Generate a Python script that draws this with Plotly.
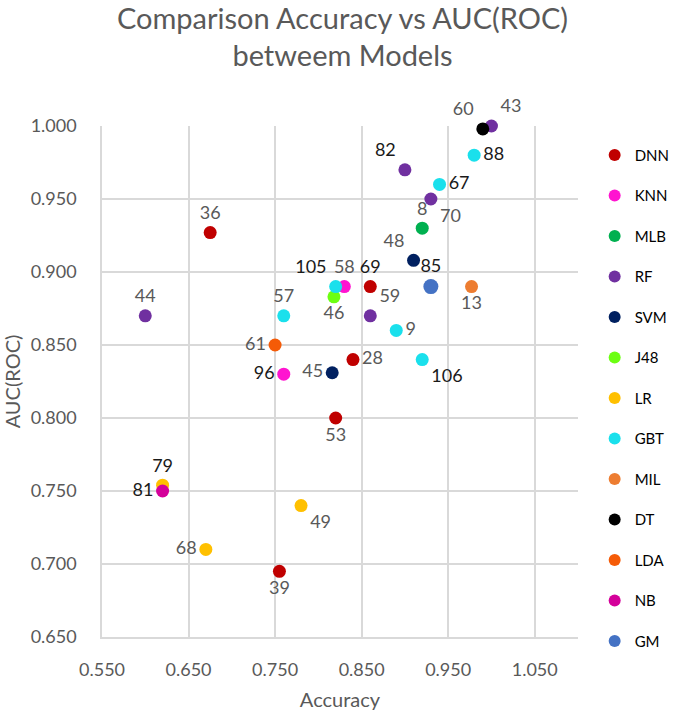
import plotly.graph_objects as go

# models in legend order
models = ["DNN", "KNN", "MLB", "RF", "SVM", "J48", "LR", "GBT", "MIL", "DT", "LDA", "NB", "GM"]
colors = ["#C00000", "#FF14D0", "#00B050", "#7030A0", "#002060", "#6CFF12", "#FFC000",
          "#1AE0EC", "#ED7D31", "#000000", "#F55B07", "#D4009A", "#4472C4"]

# one entry per study (point)
study_id = [36, 69, 28, 53, 39,
            58, 96,
            8,
            44, 43, 82, 70, 59,
            48, 45,
            46,
            79, 68, 49,
            57, 88, 67, 105, 9, 106,
            13,
            60,
            61,
            81,
            85]
study_model = ["DNN"] * 5 + ["KNN"] * 2 + ["MLB"] + ["RF"] * 5 + ["SVM"] * 2 + ["J48"] + \
              ["LR"] * 3 + ["GBT"] * 6 + ["MIL", "DT", "LDA", "NB", "GM"]
accuracy = [0.675, 0.860, 0.840, 0.820, 0.755,
            0.830, 0.760,
            0.920,
            0.600, 1.000, 0.900, 0.930, 0.860,
            0.910, 0.816,
            0.818,
            0.620, 0.670, 0.780,
            0.760, 0.980, 0.940, 0.820, 0.890, 0.920,
            0.977,
            0.990,
            0.750,
            0.620,
            0.930]
auc = [0.927, 0.890, 0.840, 0.800, 0.695,
       0.890, 0.830,
       0.930,
       0.870, 1.000, 0.970, 0.950, 0.870,
       0.908, 0.831,
       0.883,
       0.754, 0.710, 0.740,
       0.870, 0.980, 0.960, 0.890, 0.860, 0.840,
       0.890,
       0.998,
       0.850,
       0.750,
       0.890]

# where each label sits around its dot
label_pos = {36: "top center", 69: "top center", 28: "middle right", 53: "bottom center",
             39: "bottom center", 58: "top center", 96: "middle left", 8: "top center",
             44: "top center", 43: "top right", 82: "top left", 70: "bottom right",
             59: "top right", 48: "top left", 45: "middle left", 46: "bottom center",
             79: "top center", 68: "middle left", 49: "bottom right", 57: "top center",
             88: "middle right", 67: "middle right", 105: "top left", 9: "middle right",
             106: "bottom right", 13: "bottom center", 60: "top left", 61: "middle left",
             81: "middle left", 85: "top center"}
dark_labels = {82, 88, 67, 85, 69, 105, 96, 79, 81, 106}

fig = go.Figure()
for m, c in zip(models, colors):
    idx = [i for i, s in enumerate(study_model) if s == m]
    ids = [study_id[i] for i in idx]
    fig.add_trace(go.Scatter(
        x=[accuracy[i] for i in idx],
        y=[auc[i] for i in idx],
        mode="markers+text",
        name=m,
        legendgroup=m,
        text=[str(s) for s in ids],
        textposition=[label_pos[s] for s in ids],
        textfont=dict(size=18, color=["#1a1a1a" if s in dark_labels else "#595959" for s in ids]),
        marker=dict(color=c, size=15 if m == "GM" else 13),
        cliponaxis=False,
    ))

grey = "#595959"
fig.update_layout(
    width=685, height=714,
    margin=dict(l=102, r=107, t=126, b=77, autoexpand=False),
    paper_bgcolor="white", plot_bgcolor="white",
    font=dict(family="Lato, Open Sans, sans-serif", color=grey),
    title=dict(text="Comparison Accuracy vs AUC(ROC)<br>betweem Models",
               x=0.5, xanchor="center", y=0.96, yanchor="middle",
               font=dict(size=29, color=grey)),
    legend=dict(x=1.035, y=0.975, xanchor="left", yanchor="top",
                font=dict(size=15, color="#000000"), tracegroupgap=18,
                itemsizing="constant", maxheight=620),
)
fig.update_xaxes(range=[0.55, 1.10], tick0=0.55, dtick=0.1, tickformat=".3f",
                 showgrid=True, gridcolor="#D9D9D9", gridwidth=1.5,
                 showline=True, linecolor="#D9D9D9", linewidth=1.5,
                 zeroline=False, ticks="", ticklabelstandoff=16,
                 tickfont=dict(size=18, color=grey),
                 title=dict(text="Accuracy", font=dict(size=20, color=grey), standoff=14))
fig.update_yaxes(range=[0.65, 1.0], tick0=0.65, dtick=0.05, tickformat=".3f",
                 showgrid=True, gridcolor="#D9D9D9", gridwidth=1.5,
                 showline=True, linecolor="#D9D9D9", linewidth=1.5,
                 zeroline=False, ticks="", ticklabelstandoff=20,
                 tickfont=dict(size=18, color=grey),
                 title=dict(text="AUC(ROC)", font=dict(size=20, color=grey), standoff=10))

fig.write_html("out.html", config={"displayModeBar": False},
               post_script="document.body.style.margin='0';")
